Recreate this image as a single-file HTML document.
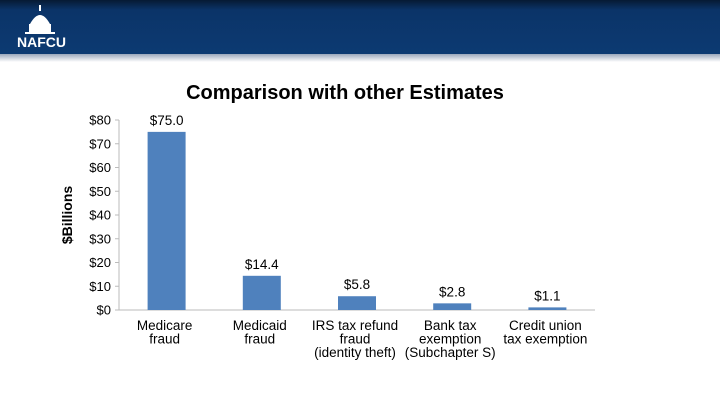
<!DOCTYPE html>
<html><head><meta charset="utf-8"><style>
body{margin:0;width:720px;height:405px;background:#fff;overflow:hidden;font-family:"Liberation Sans",Arial,sans-serif;position:relative}
#hdr{position:absolute;left:0;top:0;width:720px;height:54px;background:linear-gradient(#061a33 0px,#0b3468 10px,#0c3a72 54px)}
#shadow{position:absolute;left:0;top:54px;width:720px;height:8px;background:linear-gradient(#9aa8bc,#fff)}
#logo{position:absolute;left:17px;top:34px;color:#fff;font-weight:bold;font-size:14px;letter-spacing:0}
#title{position:absolute;left:0;width:690px;top:82px;text-align:center;font-weight:bold;font-size:20px;color:#000}
</style></head><body>
<div id="hdr"></div>
<div id="shadow"></div>
<svg style="position:absolute;left:22px;top:4px" width="40" height="32">
<rect x="17" y="1" width="2" height="6" fill="#fff"/>
<path d="M8 20 Q18 2 28 20 Z" fill="#fff"/>
<rect x="7" y="20" width="22" height="8" fill="#fff"/>
<rect x="3" y="28" width="30" height="2" fill="#fff"/>
</svg>
<div id="logo">NAFCU</div>
<div id="title">Comparison with other Estimates</div>
<svg id="chart" width="720" height="405" style="position:absolute;left:0;top:0"></svg>
<script>
const categories=[["Medicare","fraud"],["Medicaid","fraud"],["IRS tax refund","fraud","(identity theft)"],["Bank tax","exemption","(Subchapter S)"],["Credit union","tax exemption"]];
const values=[75.0,14.4,5.8,2.8,1.1];
const valueLabels=["$75.0","$14.4","$5.8","$2.8","$1.1"];
const ticks=[0,10,20,30,40,50,60,70,80];
const tickLabels=["$0","$10","$20","$30","$40","$50","$60","$70","$80"];
const svg=document.getElementById('chart');const NS='http://www.w3.org/2000/svg';
const x0=119,x1=595,y0=310,y1=120,ymax=80;
const y=v=>y0-(v/ymax)*(y0-y1);
const bw=(x1-x0)/categories.length;
const xc=i=>x0+bw*(i+0.5);
function mk(t,a){const e=document.createElementNS(NS,t);for(const k in a)e.setAttribute(k,a[k]);svg.appendChild(e);return e;}
const ax=mk('line',{x1:x0,y1:y1,x2:x0,y2:y0,stroke:'#bbb'});


const bx=mk('line',{x1:x0,y1:y0,x2:x1,y2:y0,stroke:'#bbb'});


ticks.forEach((t,i)=>{
 const tl=mk('line',{x1:x0-4,y1:y(t),x2:x0,y2:y(t),stroke:'#bbb'});
 
 
 const tx=mk('text',{x:x0-8,y:y(t)+4.5,'text-anchor':'end','font-size':13,fill:'#000'});
 tx.textContent=tickLabels[i];
 
 
});
const yt=mk('text',{x:0,y:0,transform:'translate(72,215) rotate(-90)','text-anchor':'middle','font-size':14,'font-weight':'bold'});
yt.textContent='$Billions';


values.forEach((v,i)=>{
 const r=mk('rect',{x:xc(i)-19,y:y(v),width:38,height:y0-y(v),fill:'#4f81bd'});
 
 
 const lb=mk('text',{x:xc(i),y:y(v)-7,'text-anchor':'middle','font-size':13.5});
 lb.textContent=valueLabels[i];
 
 
 categories[i].forEach((s,j)=>{
  const c=mk('text',{x:xc(i)-2,y:y0+20+j*13.5,'text-anchor':'middle','font-size':13.5});
  c.textContent=s;
  
  
 });
});
</script>
</body></html>
